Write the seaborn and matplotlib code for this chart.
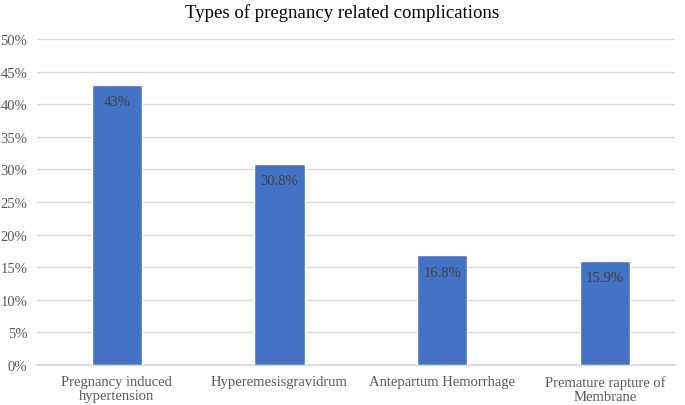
"""Bar chart: types of pregnancy related complications."""
import pandas as pd
import matplotlib.pyplot as plt
import seaborn as sns
from matplotlib.ticker import PercentFormatter

categories = ["Pregnancy induced\nhypertension", "Hyperemesisgravidrum",
              "Antepartum Hemorrhage", "Premature rapture of\nMembrane"]
values = [43.0, 30.8, 16.8, 15.9]
labels = ["43%", "30.8%", "16.8%", "15.9%"]

sns.set_theme(style="white")
plt.rcParams["font.family"] = ["Liberation Serif", "DejaVu Serif"]

df = pd.DataFrame({"complication": categories, "percent": values})

fig = plt.figure(figsize=(6.85, 4.06), dpi=100)
ax = fig.add_axes([37 / 685, 1 - 366 / 406, (675 - 37) / 685, (366 - 40) / 406])

sns.barplot(data=df, x="complication", y="percent", color="#4472C4",
            width=0.31, saturation=1, ax=ax, zorder=3)

for i, (v, lab) in enumerate(zip(values, labels)):
    ax.annotate(lab, (i, v), xytext=(0, -12), textcoords="offset points",
                ha="center", va="center", fontsize=10.5, color="#404040")

ax.set_ylim(0, 50)
ax.set_xlim(-0.49, 3.43)
ax.set_yticks(range(0, 51, 5))
ax.yaxis.set_major_formatter(PercentFormatter(decimals=0))
ax.grid(axis="y", color="#D9D9D9", linewidth=1, zorder=0)
for s in ["top", "right", "left"]:
    ax.spines[s].set_visible(False)
ax.spines["bottom"].set_color("#D9D9D9")
ax.tick_params(axis="both", length=0, labelsize=10.5, labelcolor="#595959")
ax.tick_params(axis="y", pad=7)
ax.tick_params(axis="x", pad=7)
for t in ax.get_xticklabels():
    t.set_linespacing(1.15)
ax.set_xlabel("")
ax.set_ylabel("")
fig.suptitle("Types of pregnancy related complications", y=0.99,
             fontsize=13.5, color="black")

fig.savefig("out.png", dpi=100)
